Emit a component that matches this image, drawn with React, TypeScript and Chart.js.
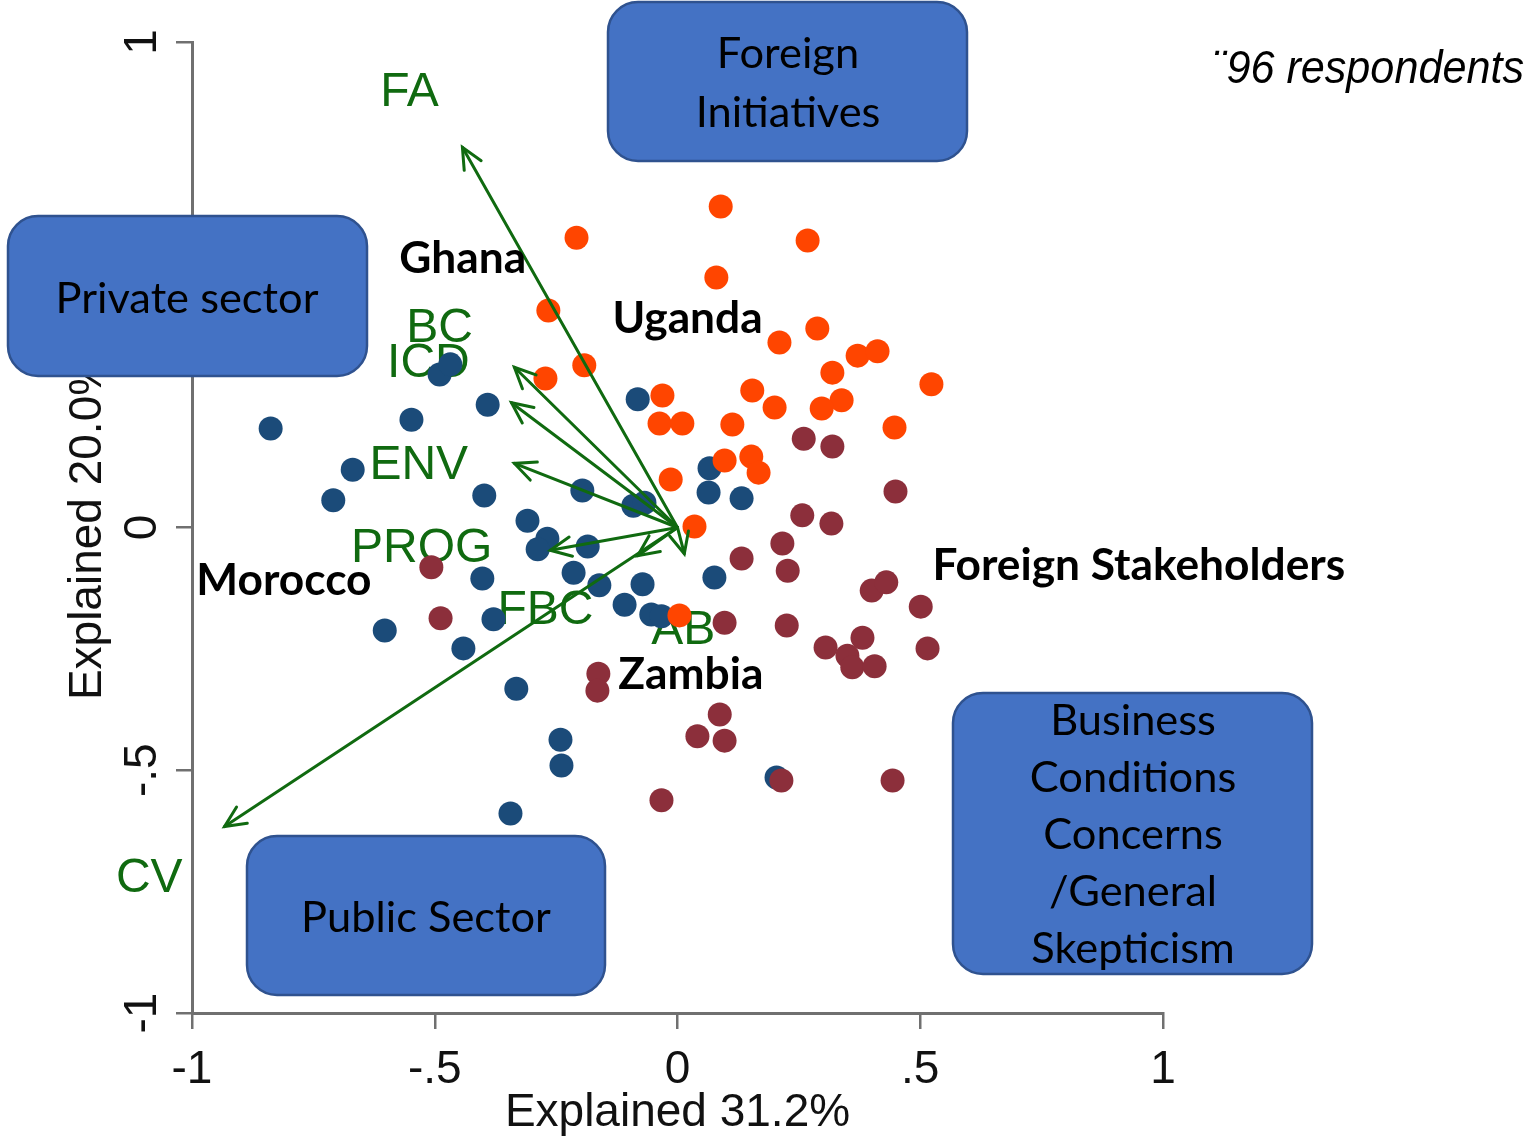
import React, { useEffect, useRef } from "react";
import { Chart, registerables } from "chart.js";

Chart.register(...registerables);

// ---------------- data ----------------
const seriesNames = ["Cluster navy", "Cluster maroon", "Cluster orange"];

const navyX = [-0.838, -0.669, -0.709, -0.548, -0.49, -0.468, -0.391, -0.398, -0.309, -0.268, -0.288, -0.185, -0.196, -0.082, -0.091, -0.068, 0.066, 0.064, 0.132, -0.402, -0.214, -0.161, -0.072, -0.109, -0.054, -0.033, 0.076, -0.603, -0.379, -0.441, -0.332, -0.241, -0.239, -0.344, 0.204];
const navyY = [0.204, 0.119, 0.056, 0.222, 0.315, 0.336, 0.253, 0.066, 0.014, -0.023, -0.045, -0.039, 0.076, 0.264, 0.045, 0.051, 0.122, 0.072, 0.06, -0.105, -0.093, -0.119, -0.117, -0.159, -0.179, -0.183, -0.103, -0.212, -0.189, -0.249, -0.332, -0.437, -0.49, -0.589, -0.515];

const orangeX = [0.089, -0.208, 0.268, 0.08, -0.266, 0.288, 0.21, 0.371, 0.412, -0.192, -0.272, 0.319, 0.523, 0.154, -0.031, 0.338, 0.2, 0.297, -0.037, 0.01, 0.113, 0.447, 0.152, 0.097, 0.167, -0.014, 0.035, 0.004];
const orangeY = [0.661, 0.597, 0.591, 0.515, 0.447, 0.41, 0.381, 0.354, 0.363, 0.334, 0.307, 0.319, 0.295, 0.282, 0.272, 0.262, 0.247, 0.245, 0.214, 0.214, 0.212, 0.206, 0.146, 0.138, 0.113, 0.099, 0.002, -0.181];

const maroonX = [0.26, 0.319, 0.449, 0.257, 0.317, 0.216, 0.227, 0.132, 0.4, 0.43, 0.501, 0.097, 0.225, 0.305, 0.381, 0.35, 0.36, 0.406, 0.515, 0.087, 0.041, 0.097, 0.214, 0.443, -0.033, -0.163, -0.165, -0.507, -0.488];
const maroonY = [0.183, 0.167, 0.074, 0.025, 0.008, -0.033, -0.089, -0.064, -0.13, -0.113, -0.163, -0.196, -0.202, -0.247, -0.227, -0.264, -0.288, -0.286, -0.249, -0.385, -0.43, -0.439, -0.521, -0.521, -0.562, -0.301, -0.336, -0.082, -0.187];

const vectorNames = ["FA", "BC", "ICD", "ENV", "PROG", "FBC", "AB", "CV"];
const vectorX = [-0.443, -0.336, -0.342, -0.336, -0.262, -0.082, 0.014, -0.933];
const vectorY = [0.783, 0.33, 0.257, 0.132, -0.047, -0.058, -0.054, -0.616];
const vectorLabelX = [-0.552, -0.49, -0.513, -0.533, -0.527, -0.272, 0.012, -1.088];
const vectorLabelY = [0.895, 0.41, 0.338, 0.128, -0.043, -0.171, -0.212, -0.723];

const countryNames = ["Ghana", "Uganda", "Morocco", "Zambia", "Foreign Stakeholders"];
const countryX = [-0.573, -0.134, -0.991, -0.122, 0.525];
const countryY = [0.525, 0.4, -0.14, -0.332, -0.109];

const tickValues = [-1, -0.5, 0, 0.5, 1];
const tickLabels = ["-1", "-.5", "0", ".5", "1"];
const xAxisTitle = "Explained 31.2%";
const yAxisTitle = "Explained 20.0%";
const noteText = "¨96 respondents";

// ---------------- styling ----------------
const SANS = '"Liberation Sans", Arial, sans-serif';
const BOXFONT = 'Lato, "Open Sans", sans-serif';
const AXIS_GREY = "#707070";
const GREEN = "#106a10";

const boxes = [
  { x: 608, y: 2, w: 359, h: 159, lines: ["Foreign", "Initiatives"], cx: 788, base: [68, 127] },
  { x: 8, y: 216, w: 359, h: 160, lines: ["Private sector"], cx: 187, base: [313] },
  { x: 247, y: 836, w: 358, h: 159, lines: ["Public Sector"], cx: 426, base: [932] },
  { x: 953, y: 693, w: 359, h: 281, lines: ["Business", "Conditions", "Concerns", "/General", "Skepticism"], cx: 1133, base: [735, 792, 849, 906, 963] },
];

function tickText(v: number) {
  const i = tickValues.findIndex((t) => Math.abs(t - v) < 1e-9);
  return i >= 0 ? tickLabels[i] : "";
}

function fitSize(ctx: CanvasRenderingContext2D, text: string, family: string, weight: string, target: number) {
  ctx.font = `${weight} 100px ${family}`;
  const w = ctx.measureText(text).width;
  return (100 * target) / w;
}

function drawArrow(ctx: CanvasRenderingContext2D, x0: number, y0: number, x1: number, y1: number) {
  ctx.beginPath();
  ctx.moveTo(x0, y0);
  ctx.lineTo(x1, y1);
  ctx.stroke();
  const ang = Math.atan2(y0 - y1, x0 - x1);
  const len = 23;
  const spread = (25 * Math.PI) / 180;
  ctx.beginPath();
  ctx.moveTo(x1 + len * Math.cos(ang + spread), y1 + len * Math.sin(ang + spread));
  ctx.lineTo(x1, y1);
  ctx.lineTo(x1 + len * Math.cos(ang - spread), y1 + len * Math.sin(ang - spread));
  ctx.stroke();
}

const overlayPlugin = {
  id: "overlay",
  beforeDatasetsDraw(chart: any) {
    const { ctx, scales } = chart;
    const sx = scales.x, sy = scales.y;
    ctx.save();
    ctx.fillStyle = GREEN;
    ctx.font = `48px ${SANS}`;
    ctx.textAlign = "center";
    ctx.textBaseline = "middle";
    vectorNames.forEach((n, i) => {
      ctx.fillText(n, sx.getPixelForValue(vectorLabelX[i]), sy.getPixelForValue(vectorLabelY[i]));
    });
    ctx.restore();
  },
  afterDatasetsDraw(chart: any) {
    const { ctx, scales } = chart;
    const sx = scales.x, sy = scales.y;
    ctx.save();
    ctx.strokeStyle = GREEN;
    ctx.lineWidth = 3;
    ctx.lineCap = "round";
    ctx.lineJoin = "miter";
    const ox = sx.getPixelForValue(0), oy = sy.getPixelForValue(0);
    vectorNames.forEach((_, i) => {
      drawArrow(ctx, ox, oy, sx.getPixelForValue(vectorX[i]), sy.getPixelForValue(vectorY[i]));
    });
    ctx.restore();
  },
  afterDraw(chart: any) {
    const { ctx, scales } = chart;
    const sx = scales.x, sy = scales.y;
    ctx.save();
    // y tick labels, rotated
    ctx.fillStyle = "#111";
    ctx.font = `46px ${SANS}`;
    ctx.textAlign = "center";
    ctx.textBaseline = "middle";
    tickValues.forEach((v, i) => {
      ctx.save();
      ctx.translate(143, sy.getPixelForValue(v));
      ctx.rotate(-Math.PI / 2);
      ctx.fillText(tickLabels[i], 0, 0);
      ctx.restore();
    });

    // country labels
    const bsize = fitSize(ctx, "Foreign Stakeholders", BOXFONT, "bold", 413);
    ctx.font = `bold ${bsize}px ${BOXFONT}`;
    ctx.fillStyle = "#000";
    ctx.textAlign = "left";
    ctx.textBaseline = "alphabetic";
    countryNames.forEach((n, i) => {
      ctx.fillText(n, sx.getPixelForValue(countryX[i]), sy.getPixelForValue(countryY[i]));
    });

    // boxes
    const size = fitSize(ctx, "Private sector", BOXFONT, "normal", 263);
    boxes.forEach((b) => {
      ctx.beginPath();
      (ctx as any).roundRect(b.x, b.y, b.w, b.h, 30);
      ctx.fillStyle = "#4472C4";
      ctx.fill();
      ctx.lineWidth = 2.5;
      ctx.strokeStyle = "#2F528F";
      ctx.stroke();
      ctx.fillStyle = "#000";
      ctx.font = `${size}px ${BOXFONT}`;
      ctx.textAlign = "center";
      ctx.textBaseline = "alphabetic";
      b.lines.forEach((l, i) => ctx.fillText(l, b.cx, b.base[i]));
    });

    // note
    ctx.font = `italic 46px ${SANS}`;
    ctx.textAlign = "left";
    ctx.fillStyle = "#000";
    ctx.fillText(noteText, 1212, 83, 312);
    ctx.restore();
  },
};

export default function App() {
  const ref = useRef<HTMLCanvasElement | null>(null);
  useEffect(() => {
    if (!ref.current) return;
    const toPts = (xs: number[], ys: number[]) => xs.map((x, i) => ({ x, y: ys[i] }));
    const pointStyle = (color: string) => ({
      backgroundColor: color,
      borderColor: color,
      borderWidth: 0,
      pointRadius: 12,
      pointHoverRadius: 12,
      showLine: false,
    });
    const axisFont = { family: SANS, size: 46 };
    const chart = new Chart(ref.current, {
      type: "scatter",
      data: {
        datasets: [
          { label: seriesNames[2], data: toPts(orangeX, orangeY), ...pointStyle("#FF4500") },
          { label: seriesNames[1], data: toPts(maroonX, maroonY), ...pointStyle("#8C2F3B") },
          { label: seriesNames[0], data: toPts(navyX, navyY), ...pointStyle("#1B4B79") },
        ],
      },
      options: {
        responsive: false,
        animation: false,
        layout: { padding: { left: 0, top: 42, right: 366, bottom: 0 } },
        plugins: { legend: { display: false }, tooltip: { enabled: false } },
        scales: {
          x: {
            type: "linear",
            min: -1,
            max: 1,
            afterFit: (s: any) => {
              s.height = 125;
            },
            ticks: { stepSize: 0.5, callback: (v: any) => tickText(Number(v)), font: axisFont, color: "#111", padding: 14, maxRotation: 0, autoSkip: false },
            grid: { display: true, drawOnChartArea: false, drawTicks: true, tickLength: 16, color: AXIS_GREY, lineWidth: 2.5 },
            border: { display: true, color: AXIS_GREY, width: 3 },
            title: { display: true, text: xAxisTitle, font: axisFont, color: "#111", padding: { top: 0, bottom: -3 } },
          },
          y: {
            type: "linear",
            min: -1,
            max: 1,
            afterFit: (s: any) => {
              s.width = 192;
            },
            ticks: { stepSize: 0.5, display: false },
            grid: { display: true, drawOnChartArea: false, drawTicks: true, tickLength: 16, color: AXIS_GREY, lineWidth: 2.5 },
            border: { display: true, color: AXIS_GREY, width: 3 },
            title: { display: true, text: yAxisTitle, font: axisFont, color: "#111", padding: { top: 61, bottom: 0 } },
          },
        },
      },
      plugins: [overlayPlugin],
    } as any);
    return () => chart.destroy();
  }, []);
  return (
    <div style={{ position: "absolute", left: 0, top: 0, width: 1529, height: 1138, background: "#fff" }}>
      <canvas ref={ref} width={1529} height={1138} style={{ display: "block" }} />
    </div>
  );
}
